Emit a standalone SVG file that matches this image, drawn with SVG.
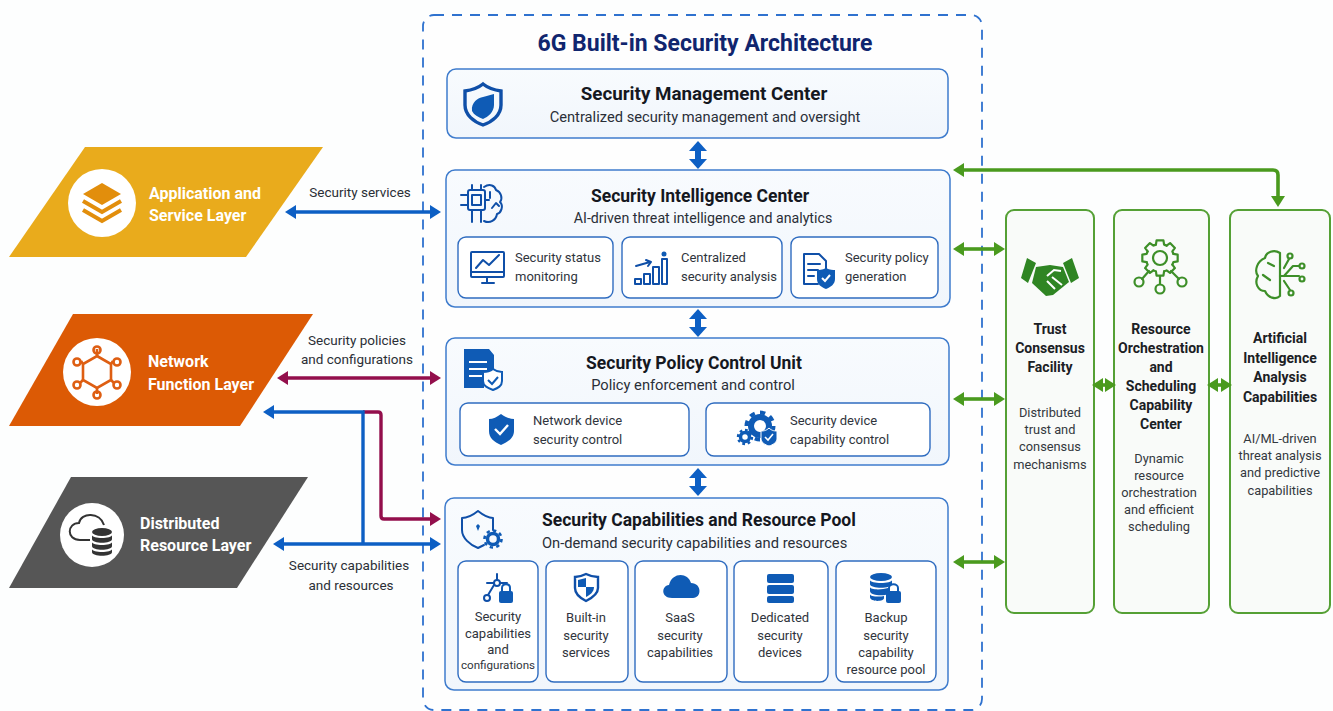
<svg xmlns="http://www.w3.org/2000/svg" width="1333" height="711" viewBox="0 0 1333 711">
<style>
text{font-family:Roboto,"Liberation Sans",sans-serif;fill:#2b2f36}
.ttl{font-size:17.5px;font-weight:700;fill:#15181f;text-anchor:middle}
.sub{font-size:14.7px;text-anchor:middle;fill:#2a2f38}
.lb{font-size:13px;fill:#2f343c}
.cl{font-size:13px;text-anchor:middle;fill:#2f343c}
.gt{font-size:14px;font-weight:700;text-anchor:middle;fill:#1b2024}
.gs{font-size:12.8px;text-anchor:middle;fill:#33383e}
.ly{font-size:16px;font-weight:700;fill:#fff}
.el{font-size:13.5px;text-anchor:middle;fill:#2b2f36}
.panel{fill:url(#pg);stroke:#3f7ccd;stroke-width:1.5}
.sb{fill:#fff;stroke:#2f6cc0;stroke-width:1.4}
.col{fill:#f9fbf9;stroke:#55a035;stroke-width:2}
.ib{fill:#0f5bb5}
.il{fill:none;stroke:#0f4fa8;stroke-width:2;stroke-linecap:round;stroke-linejoin:round}
.gl{fill:none;stroke:#3d8f28;stroke-width:2.2;stroke-linecap:round;stroke-linejoin:round}
.cb{fill:none;stroke:#0d5fc4;stroke-width:3.4}
.cv{fill:none;stroke:#0d5fc4;stroke-width:6}
.cp{fill:none;stroke:#930f4c;stroke-width:3.4}
.cg{fill:none;stroke:#4a9a1e;stroke-width:3.6}
.gr{fill:none;stroke:#0f5bb5}
</style>
<defs>
<linearGradient id="pg" x1="0" y1="0" x2="0" y2="1"><stop offset="0" stop-color="#f8fbfe"/><stop offset="1" stop-color="#f1f6fc"/></linearGradient>
<marker id="ab" markerUnits="userSpaceOnUse" markerWidth="12" markerHeight="16" refX="1" refY="7" orient="auto-start-reverse"><path d="M0 0L11 7L0 14Z" fill="#0d5fc4"/></marker>
<marker id="ap" markerUnits="userSpaceOnUse" markerWidth="12" markerHeight="16" refX="1" refY="7" orient="auto-start-reverse"><path d="M0 0L11 7L0 14Z" fill="#930f4c"/></marker>
<marker id="ag" markerUnits="userSpaceOnUse" markerWidth="12" markerHeight="16" refX="1" refY="7" orient="auto-start-reverse"><path d="M0 0L11 7L0 14Z" fill="#4a9a1e"/></marker>
<marker id="av" markerUnits="userSpaceOnUse" markerWidth="12" markerHeight="20" refX="1" refY="9" orient="auto-start-reverse"><path d="M0 0L10 9L0 18Z" fill="#0d5fc4"/></marker>
<path id="tooth" d="M-4.09 -13.39L-3.43 -17.67H3.43L4.09 -13.39A14 14 0 0 1 6.58 -12.36"/>
</defs>
<rect width="1333" height="711" fill="#fdfefe"/>

<g id="architecture-frame">
<rect x="423" y="15" width="559" height="695" rx="11" fill="#fefefe" stroke="#2f72cf" stroke-width="1.8" stroke-dasharray="10 8"/>
<text x="705" y="51" text-anchor="middle" style="font-size:23px;font-weight:700;fill:#10256e">6G Built-in Security Architecture</text>
</g>

<g id="application-layer">
<path d="M85 147H323L246 257H9Z" fill="#e9ab1c"/>
<circle cx="102" cy="203" r="34" fill="#fff"/>
<path d="M102 183L121 194L102 205L83 194Z" fill="#e28e0c"/>
<path d="M83 201L102 212L121 201M83 210L102 221L121 210" fill="none" stroke="#e28e0c" stroke-width="4"/>
<text class="ly" x="149" y="199">Application and</text><text class="ly" x="149" y="221">Service Layer</text>
</g>
<g id="network-layer">
<path d="M73 314H313L240 426H9Z" fill="#dc5a05"/>
<circle cx="97" cy="372" r="34" fill="#fff"/>
<g fill="none" stroke="#de5e12" stroke-width="2.6"><path d="M97 356L111 364V380L97 388L83 380V364Z"/><path d="M97 356V349M111 364L113 361M83 364L81 361M111 380L114 383M83 380L80 383M97 388V394"/>
<circle cx="97" cy="350" r="3.5"/><circle cx="77" cy="362" r="3.5"/><circle cx="117" cy="362" r="3.5"/><circle cx="77" cy="385" r="3.5"/><circle cx="117" cy="385" r="3.5"/><circle cx="97" cy="395" r="3.5"/></g>
<text class="ly" x="148" y="367">Network</text><text class="ly" x="148" y="390">Function Layer</text>
</g>
<g id="distributed-layer">
<path d="M71 477H308L237 588H9Z" fill="#565656"/>
<circle cx="92" cy="535" r="32" fill="#fff"/>
<path d="M90 540H80C66 540 67 523 79 523C81 512 100 512 104 525" fill="none" stroke="#333" stroke-width="2"/>
<ellipse cx="102" cy="532" rx="10" ry="4" fill="#333"/><path d="M92 535V539C92 544 112 544 112 539V535C112 539 92 539 92 535ZM92 542V546C92 551 112 551 112 546V542C112 546 92 546 92 542ZM92 549V552C92 557 112 557 112 552V549C112 553 92 553 92 549Z" fill="#333"/>
<text class="ly" x="140" y="529">Distributed</text><text class="ly" x="140" y="551">Resource Layer</text>
</g>

<g id="security-management-center">
<rect class="panel" x="447" y="69" width="501" height="69" rx="9"/>
<path d="M465 91C473 90 478 88 483 84C488 88 493 90 501 91V105C501 115 492 122 483 125C474 122 465 115 465 105Z" fill="none" stroke="#0f4fa8" stroke-width="3.4"/>
<path d="M472 111C471 102 478 98 483 97C487 96 490 95 494 94V105C494 112 488 117 483 119C478 117 474 115 472 111Z" class="ib"/>
<text class="ttl" x="704" y="100" style="font-size:18.8px">Security Management Center</text>
<text class="sub" x="705" y="122">Centralized security management and oversight</text>
</g>

<g id="security-intelligence-center">
<rect class="panel" x="446" y="170" width="504" height="137" rx="9"/>
<g class="il"><rect x="472" y="195" width="9" height="10"/><rect x="468" y="190" width="17" height="20" rx="2"/><path d="M461 195H468M461 205H468M472 185V190M481 185V190M472 210V222M481 210V222M485 200H489"/><path d="M484 187C490 183 495 186 496 190C501 192 503 198 500 202C504 206 501 213 497 214C496 220 490 224 484 221"/><path d="M490 192L490 198M492 208L496 203L499 206"/></g>
<text class="ttl" x="700" y="202">Security Intelligence Center</text>
<text class="sub" x="703" y="223" style="font-size:14.2px">AI-driven threat intelligence and analytics</text>
<rect class="sb" x="458" y="237" width="155" height="61" rx="8"/>
<rect class="sb" x="622" y="237" width="160" height="61" rx="8"/>
<rect class="sb" x="791" y="237" width="147" height="61" rx="8"/>
<g class="il"><rect x="471" y="252" width="33" height="25" rx="1"/><path d="M471 272H504M482 283H494M487 277V282M476 268L483 260L489 265L499 255"/></g>
<path d="M635 279H641V284H635ZM644 274H650V284H644ZM653 267H659V284H653ZM662 259H667V284H662Z" class="il"/>
<path d="M636 266L650 262M646 260L651 262L648 266" class="il"/><circle cx="664" cy="254" r="2.5" class="ib"/>
<path d="M804 254H819L826 261V270M804 254V284H818M808 264H820M808 270H818M808 276H814" class="il"/>
<path d="M826 268C830 270 833 270 835 270V279C835 284 831 287 826 289C821 287 817 284 817 279V270C819 270 822 270 826 268Z" class="ib"/><path d="M822 278L825 281L830 275" fill="none" stroke="#fff" stroke-width="2"/>
<text class="lb" x="515" y="262">Security status</text><text class="lb" x="515" y="281">monitoring</text>
<text class="lb" x="681" y="262">Centralized</text><text class="lb" x="681" y="281">security analysis</text>
<text class="lb" x="845" y="262">Security policy</text><text class="lb" x="845" y="281">generation</text>
</g>

<g id="security-policy-control-unit">
<rect class="panel" x="446" y="338" width="503" height="127" rx="9"/>
<path d="M464 349H489L494 355V372C488 372 484 378 484 388H464Z" class="ib"/><path d="M469 362H487M469 369H487M469 376H482" stroke="#fff" stroke-width="2"/>
<path d="M493 369C497 372 499 372 502 372V381C502 386 498 388 493 390C488 388 483 386 483 381V372C486 372 489 372 493 369Z" fill="#fff" stroke="#0f5bb5" stroke-width="2"/><path d="M488 380L492 384L498 377" fill="none" stroke="#0f5bb5" stroke-width="2"/>
<text class="ttl" x="694" y="369">Security Policy Control Unit</text>
<text class="sub" x="693" y="390">Policy enforcement and control</text>
<rect class="sb" x="460" y="403" width="229" height="53" rx="8"/>
<rect class="sb" x="706" y="403" width="224" height="53" rx="8"/>
<path d="M501 414C505 417 510 419 514 419V431C514 438 508 442 501 445C494 442 489 438 489 431V419C493 419 497 417 501 414Z" class="ib"/><path d="M495 429L500 434L508 425" fill="none" stroke="#fff" stroke-width="2.4"/>
<circle cx="760" cy="426" r="9" class="gr" stroke-width="6"/><circle cx="760" cy="426" r="13.5" class="gr" stroke-width="4" pathLength="16" stroke-dasharray="1 1"/>
<circle cx="745" cy="437" r="4.5" class="gr" stroke-width="3.5"/><circle cx="745" cy="437" r="7" class="gr" stroke-width="2.4" pathLength="16" stroke-dasharray="1 1"/>
<path d="M769 428C772 431 775 431 777 431V439C777 442 773 445 769 446C765 445 761 442 761 439V431C763 431 766 431 769 428Z" class="ib" stroke="#fff"/>
<path d="M765 437L768 440L773 434" fill="none" stroke="#fff" stroke-width="1.6"/>
<text class="lb" x="533" y="425">Network device</text><text class="lb" x="533" y="444">security control</text>
<text class="lb" x="790" y="425">Security device</text><text class="lb" x="790" y="444">capability control</text>
</g>

<g id="security-capabilities-pool">
<rect class="panel" x="445" y="498" width="503" height="192" rx="9"/>
<path d="M478 511C483 515 488 518 493 518V530M478 511C473 515 468 518 462 518V530C462 538 470 545 478 548L484 545" class="il"/>
<circle cx="493" cy="539" r="5.5" class="gr" stroke-width="3.5"/><circle cx="493" cy="539" r="8.5" class="gr" stroke-width="2.6" pathLength="16" stroke-dasharray="1 1"/>
<path d="M476 526L478 524L480 526L478 531Z" class="ib"/>
<text class="ttl" x="542" y="526" style="text-anchor:start">Security Capabilities and Resource Pool</text>
<text class="sub" x="542" y="548" style="text-anchor:start">On-demand security capabilities and resources</text>
<rect class="sb" x="458" y="561" width="80" height="121" rx="8"/>
<rect class="sb" x="546" y="561" width="82" height="121" rx="8"/>
<rect class="sb" x="635" y="561" width="92" height="121" rx="8"/>
<rect class="sb" x="734" y="561" width="94" height="121" rx="8"/>
<rect class="sb" x="836" y="561" width="100" height="121" rx="8"/>
<g class="il"><circle cx="497" cy="583" r="3"/><circle cx="487" cy="598" r="3"/><path d="M497 574V580M487 583H494M500 583H507M494 585L488 595"/></g>
<rect x="499" y="591" width="14" height="12" rx="2" class="ib"/><path d="M502 591V588C502 583 510 583 510 588V591" fill="none" stroke="#0f5bb5" stroke-width="2"/>
<path d="M586 574C590 576 594 577 598 577V588C598 594 592 598 586 601C580 598 575 594 575 588V577C578 577 582 576 586 574Z" fill="none" stroke="#0f4fa8" stroke-width="2.4"/><path d="M586 579V597C590 595 594 592 594 587H586ZM586 587H578V580L586 578Z" class="ib"/>
<path d="M672 598C661 598 661 586 669 585C672 572 688 572 691 583C702 583 702 598 693 598Z" class="ib"/>
<g class="ib"><rect x="767" y="574" width="27" height="9" rx="2"/><rect x="767" y="585" width="27" height="9" rx="2"/><rect x="767" y="596" width="27" height="7" rx="2"/></g>
<ellipse cx="881" cy="577" rx="11" ry="4" class="ib"/><path d="M870 580V584C870 589 892 589 892 584V580C892 584 870 584 870 580ZM870 587V591C870 596 885 596 888 594V588C882 590 870 590 870 587ZM870 594V597C870 602 884 602 884 598V596C880 597 870 597 870 594Z" class="ib"/>
<rect x="886" y="591" width="15" height="12" rx="2" class="ib"/><path d="M889 591V588C889 583 898 583 898 588V591" fill="none" stroke="#0f5bb5" stroke-width="2"/>
<text x="498" y="621" class="cl">Security</text><text x="498" y="638" class="cl">capabilities</text><text x="498" y="654" class="cl">and</text><text x="498" y="669" class="cl" style="font-size:11.6px">configurations</text>
<text x="586" y="622" class="cl">Built-in</text><text x="586" y="640" class="cl">security</text><text x="586" y="657" class="cl">services</text>
<text x="680" y="622" class="cl">SaaS</text><text x="680" y="640" class="cl">security</text><text x="680" y="657" class="cl">capabilities</text>
<text x="780" y="622" class="cl">Dedicated</text><text x="780" y="640" class="cl">security</text><text x="780" y="657" class="cl">devices</text>
<text x="886" y="622" class="cl">Backup</text><text x="886" y="640" class="cl">security</text><text x="886" y="657" class="cl">capability</text><text x="886" y="674" class="cl">resource pool</text>
</g>

<g id="trust-consensus-facility">
<rect class="col" x="1006" y="210" width="88" height="403" rx="8"/>
<path d="M1027 258L1036 263L1028 283L1021 278ZM1072 258L1063 263L1071 283L1079 278Z" fill="#2f8523"/>
<path d="M1036 267L1050 265L1063 267L1069 282L1053 295L1046 296L1032 283Z" fill="#2f8523"/>
<path d="M1047 276L1054 270L1061 271M1052 277L1062 285M1047 281L1055 289" fill="none" stroke="#fff" stroke-width="2"/>
<text class="gt" x="1050" y="334">Trust</text><text class="gt" x="1050" y="353">Consensus</text><text class="gt" x="1050" y="372">Facility</text>
<text class="gs" x="1050" y="417">Distributed</text><text class="gs" x="1050" y="434">trust and</text><text class="gs" x="1050" y="451">consensus</text><text class="gs" x="1050" y="469">mechanisms</text>
</g>
<g id="resource-orchestration-center">
<rect class="col" x="1114" y="210" width="95" height="403" rx="8"/>
<g class="gl"><circle cx="1160" cy="258" r="7"/>
<g transform="translate(1160 258)"><use href="#tooth"/><use href="#tooth" transform="rotate(45)"/><use href="#tooth" transform="rotate(90)"/><use href="#tooth" transform="rotate(135)"/><use href="#tooth" transform="rotate(180)"/><use href="#tooth" transform="rotate(225)"/><use href="#tooth" transform="rotate(270)"/><use href="#tooth" transform="rotate(315)"/></g>
<circle cx="1139" cy="282" r="4.5"/><circle cx="1160" cy="289" r="4.5"/><circle cx="1182" cy="282" r="4.5"/><path d="M1142 279L1149 271M1160 284V276M1179 279L1171 271"/></g>
<text class="gt" x="1161" y="334">Resource</text><text class="gt" x="1161" y="353">Orchestration</text><text class="gt" x="1161" y="372">and</text><text class="gt" x="1161" y="391">Scheduling</text><text class="gt" x="1161" y="410">Capability</text><text class="gt" x="1161" y="429">Center</text>
<text class="gs" x="1159" y="463">Dynamic</text><text class="gs" x="1159" y="480">resource</text><text class="gs" x="1159" y="497">orchestration</text><text class="gs" x="1159" y="514">and efficient</text><text class="gs" x="1159" y="531">scheduling</text>
</g>
<g id="ai-analysis-capabilities">
<rect class="col" x="1230" y="210" width="100" height="403" rx="8"/>
<g class="gl"><path d="M1280 253V296M1280 253C1274 249 1266 252 1265 258C1257 261 1254 271 1258 276C1254 283 1258 291 1265 291C1268 298 1276 300 1280 296"/><path d="M1268 263L1274 266M1263 275L1270 280"/><path d="M1280 276H1299M1284 276L1293 266H1299M1284 281L1290 290M1284 268L1289 259"/><circle cx="1302" cy="266" r="2.5"/><circle cx="1302" cy="279" r="2.5"/><circle cx="1291" cy="293" r="2.5"/><circle cx="1290" cy="256" r="2.5"/></g>
<text class="gt" x="1280" y="343">Artificial</text><text class="gt" x="1280" y="363">Intelligence</text><text class="gt" x="1280" y="382">Analysis</text><text class="gt" x="1280" y="402">Capabilities</text>
<text class="gs" x="1280" y="443">AI/ML-driven</text><text class="gs" x="1280" y="460">threat analysis</text><text class="gs" x="1280" y="477">and predictive</text><text class="gs" x="1280" y="495">capabilities</text>
</g>

<g id="connectors">
<path class="cb" d="M295 212H431" marker-start="url(#ab)" marker-end="url(#ab)"/>
<path class="cp" d="M287 378H431" marker-start="url(#ap)" marker-end="url(#ap)"/>
<path class="cp" d="M363 412H378Q381 412 381 415V516Q381 519 384 519H431" marker-end="url(#ap)"/>
<path class="cb" d="M273 412H363V544" marker-start="url(#ab)"/>
<path class="cb" d="M283 544H431" marker-start="url(#ab)" marker-end="url(#ab)"/>
<path class="cv" d="M698 150V160" marker-start="url(#av)" marker-end="url(#av)"/>
<path class="cv" d="M698 318V328" marker-start="url(#av)" marker-end="url(#av)"/>
<path class="cv" d="M698 477V487" marker-start="url(#av)" marker-end="url(#av)"/>
<path class="cg" d="M963 170H1273Q1278 170 1278 175V197" marker-start="url(#ag)" marker-end="url(#ag)"/>
<path class="cg" d="M963 249H995" marker-start="url(#ag)" marker-end="url(#ag)"/>
<path class="cg" d="M963 399H995" marker-start="url(#ag)" marker-end="url(#ag)"/>
<path class="cg" d="M963 562H995" marker-start="url(#ag)" marker-end="url(#ag)"/>
<path class="cg" d="M1102 385H1106" marker-start="url(#ag)" marker-end="url(#ag)"/>
<path class="cg" d="M1217 385H1222" marker-start="url(#ag)" marker-end="url(#ag)"/>
</g>
<g id="connector-labels">
<text class="el" x="360" y="197">Security services</text>
<text class="el" x="357" y="345">Security policies</text><text class="el" x="357" y="364">and configurations</text>
<text class="el" x="349" y="570">Security capabilities</text><text class="el" x="351" y="590">and resources</text>
</g>
</svg>
